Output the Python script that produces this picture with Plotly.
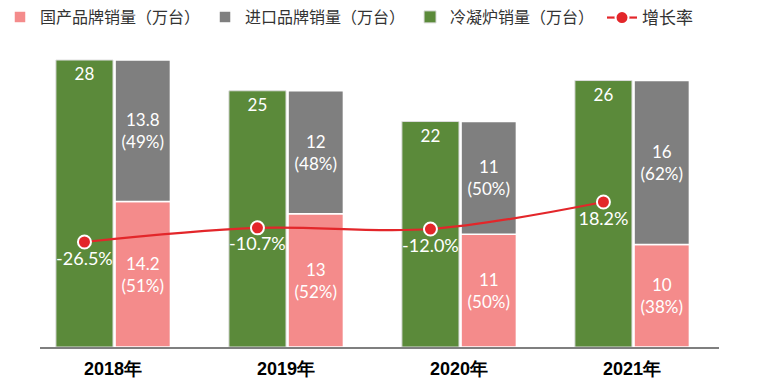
import plotly.graph_objects as go

categories = ["2018年", "2019年", "2020年", "2021年"]
domestic = [14.2, 13, 11, 10]
domestic_pct = [51, 52, 50, 38]
imported = [13.8, 12, 11, 16]
imported_pct = [49, 48, 50, 62]
condensing = [28, 25, 22, 26]
growth = [-26.5, -10.7, -12.0, 18.2]

PINK = "#f48b8b"
GRAY = "#7f7f7f"
GREEN = "#5b8a3a"
RED = "#e3262a"
LABEL_FONT = dict(family="Lato, Noto Sans, sans-serif", size=17, color="white")
CJK = "Noto Sans CJK SC, Noto Sans, sans-serif"

xs = list(range(len(categories)))
W_G = 0.33
W_S = 0.32
GAP = 0.012

fig = go.Figure()

fig.add_trace(go.Bar(
    name="国产品牌销量（万台）", x=xs, y=domestic, base=0,
    offset=GAP, width=W_S,
    marker=dict(color=PINK, line=dict(color="white", width=1.5)),
    text=[f"{v:g}<br>({p}%)" for v, p in zip(domestic, domestic_pct)],
    textposition="inside", insidetextanchor="middle", textangle=0,
    constraintext="none", textfont=LABEL_FONT, hoverinfo="skip",
))
fig.add_trace(go.Bar(
    name="进口品牌销量（万台）", x=xs, y=imported, base=domestic,
    offset=GAP, width=W_S,
    marker=dict(color=GRAY, line=dict(color="white", width=1.5)),
    text=[f"{v:g}<br>({p}%)" for v, p in zip(imported, imported_pct)],
    textposition="inside", insidetextanchor="middle", textangle=0,
    constraintext="none", textfont=LABEL_FONT, hoverinfo="skip",
))
fig.add_trace(go.Bar(
    name="冷凝炉销量（万台）", x=xs, y=condensing, base=0,
    offset=-W_G, width=W_G,
    marker=dict(color=GREEN, line=dict(color="#dcdcdc", width=1)),
    text=[f"{v:g}" for v in condensing],
    textposition="inside", insidetextanchor="end", textangle=0,
    constraintext="none", textfont=LABEL_FONT, hoverinfo="skip",
))
fig.add_trace(go.Scatter(
    name="增长率", x=[i - W_G / 2 for i in xs], y=growth, yaxis="y2",
    mode="lines+markers+text", line=dict(color=RED, width=2.2, shape="spline"),
    marker=dict(color=RED, size=13, line=dict(color="white", width=2)),
    text=[f"{v:.1f}%" for v in growth], textposition="bottom center",
    textfont=dict(LABEL_FONT, size=18), hoverinfo="skip", legend="legend2",
))

legend_common = dict(
    orientation="h", xref="container", yref="container",
    yanchor="top", xanchor="left",
    font=dict(family=CJK, size=16, color="#333333"),
    traceorder="normal", itemwidth=30, tracegroupgap=0,
    bgcolor="rgba(0,0,0,0)",
)

fig.update_layout(
    width=761, height=388,
    margin=dict(l=40, r=42, t=50, b=41, autoexpand=False),
    paper_bgcolor="white", plot_bgcolor="white",
    barmode="overlay",
    showlegend=True,
    legend=dict(legend_common, x=0.0, y=1.0),
    legend2=dict(legend_common, x=602 / 761, y=1.0,
                 font=dict(family=CJK, size=17, color="#333333")),
    xaxis=dict(
        range=[-0.422, 3.503], tickvals=xs, ticktext=categories,
        showgrid=False, zeroline=False, showline=True,
        linecolor="#7f7f7f", linewidth=2, ticks="",
        tickfont=dict(family="Liberation Sans Narrow, Liberation Sans, sans-serif",
                      size=18, color="black", weight="bold"),
        ticklabelstandoff=4,
    ),
    yaxis=dict(range=[0, 28.98], visible=False, showgrid=False, zeroline=False),
    yaxis2=dict(range=[-143.8, 188.0], overlaying="y", side="right",
                visible=False, showgrid=False, zeroline=False),
)

fig.write_html(
    "out.html",
    config={"displayModeBar": False},
    post_script="document.body.style.margin='0';document.body.style.overflow='hidden';",
)
